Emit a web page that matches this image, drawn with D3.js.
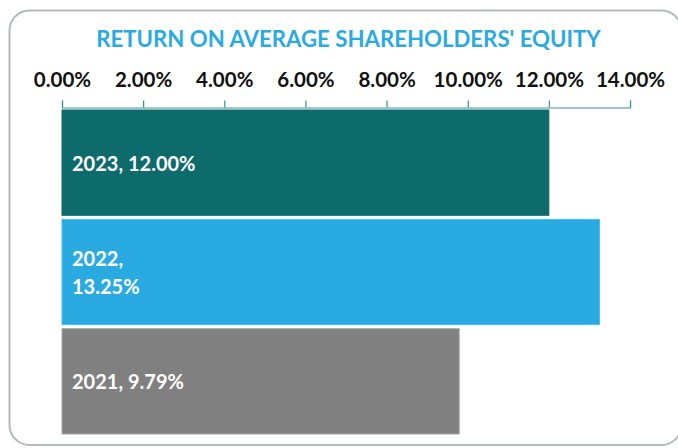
<!DOCTYPE html>
<html>
<head>
<meta charset="utf-8">
<script src="https://cdn.jsdelivr.net/npm/d3@7"></script>
<style>
  html, body { margin: 0; padding: 0; background: #ffffff; }
  svg { display: block; }
</style>
</head>
<body>
<svg id="chart" width="678" height="448"></svg>
<script>
const title = "RETURN ON AVERAGE SHAREHOLDERS' EQUITY";
const years = ["2023", "2022", "2021"];
const values = [0.12, 0.1325, 0.0979];
const barColors = ["#0d6b6b", "#29abe2", "#808080"];
const barStrokes = ["#0d6b6b", "#4fbbe8", "#a6a6a6"];
const labelLines = [["2023, 12.00%"], ["2022,", "13.25%"], ["2021, 9.79%"]];
const tickValues = [0, 0.02, 0.04, 0.06, 0.08, 0.10, 0.12, 0.14];

const svg = d3.select("#chart");
const font = "Lato, 'Open Sans', sans-serif";

// frame
svg.append("rect")
  .attr("x", 9.5).attr("y", 10.5)
  .attr("width", 672).attr("height", 434.5)
  .attr("rx", 20).attr("ry", 20)
  .attr("fill", "#ffffff")
  .attr("stroke", "#b3b8bd")
  .attr("stroke-width", 2);

// title
svg.append("text")
  .attr("x", 348.5).attr("y", 47)
  .attr("text-anchor", "middle")
  .attr("font-family", font)
  .attr("font-weight", "bold")
  .attr("font-size", 22.2)
  .attr("fill", "#29abe2")
  .text(title);

const x = d3.scaleLinear().domain([0, 0.14]).range([62, 630]);
const y = d3.scaleBand().domain(years).range([110, 434]).paddingInner(0.037).paddingOuter(0);

// axis
const axis = d3.axisTop(x)
  .tickValues(tickValues)
  .tickFormat(d3.format(".2%"))
  .tickSize(7)
  .tickSizeOuter(7)
  .tickPadding(14);

const gAxis = svg.append("g")
  .attr("transform", "translate(0,107.5)")
  .call(axis);
gAxis.select(".domain").attr("stroke", "#3f8f8f").attr("stroke-width", 1.2);
gAxis.selectAll(".tick line").attr("stroke", "#3f8f8f").attr("stroke-width", 1.2);
gAxis.selectAll(".tick text")
  .attr("font-family", font)
  .attr("font-weight", "bold")
  .attr("font-size", 20.5)
  .attr("fill", "#111111");

// bars
svg.append("g").selectAll("rect")
  .data(years)
  .join("rect")
  .attr("x", x(0))
  .attr("y", d => y(d))
  .attr("width", (d, i) => x(values[i]) - x(0))
  .attr("height", y.bandwidth())
  .attr("fill", (d, i) => barColors[i])
  .attr("stroke", (d, i) => barStrokes[i])
  .attr("stroke-width", 1);

// labels
const lineGap = 27.5;
svg.append("g").selectAll("text")
  .data(years)
  .join("text")
  .attr("font-family", font)
  .attr("font-weight", "bold")
  .attr("font-size", 20)
  .attr("fill", "#ffffff")
  .each(function(d, i) {
    const lines = labelLines[i];
    const cy = y(d) + y.bandwidth() / 2;
    const first = cy + 8 - (lines.length - 1) * lineGap / 2;
    d3.select(this).selectAll("tspan")
      .data(lines)
      .join("tspan")
      .attr("x", 72)
      .attr("y", (t, k) => first + k * lineGap)
      .text(t => t);
  });
</script>
</body>
</html>
